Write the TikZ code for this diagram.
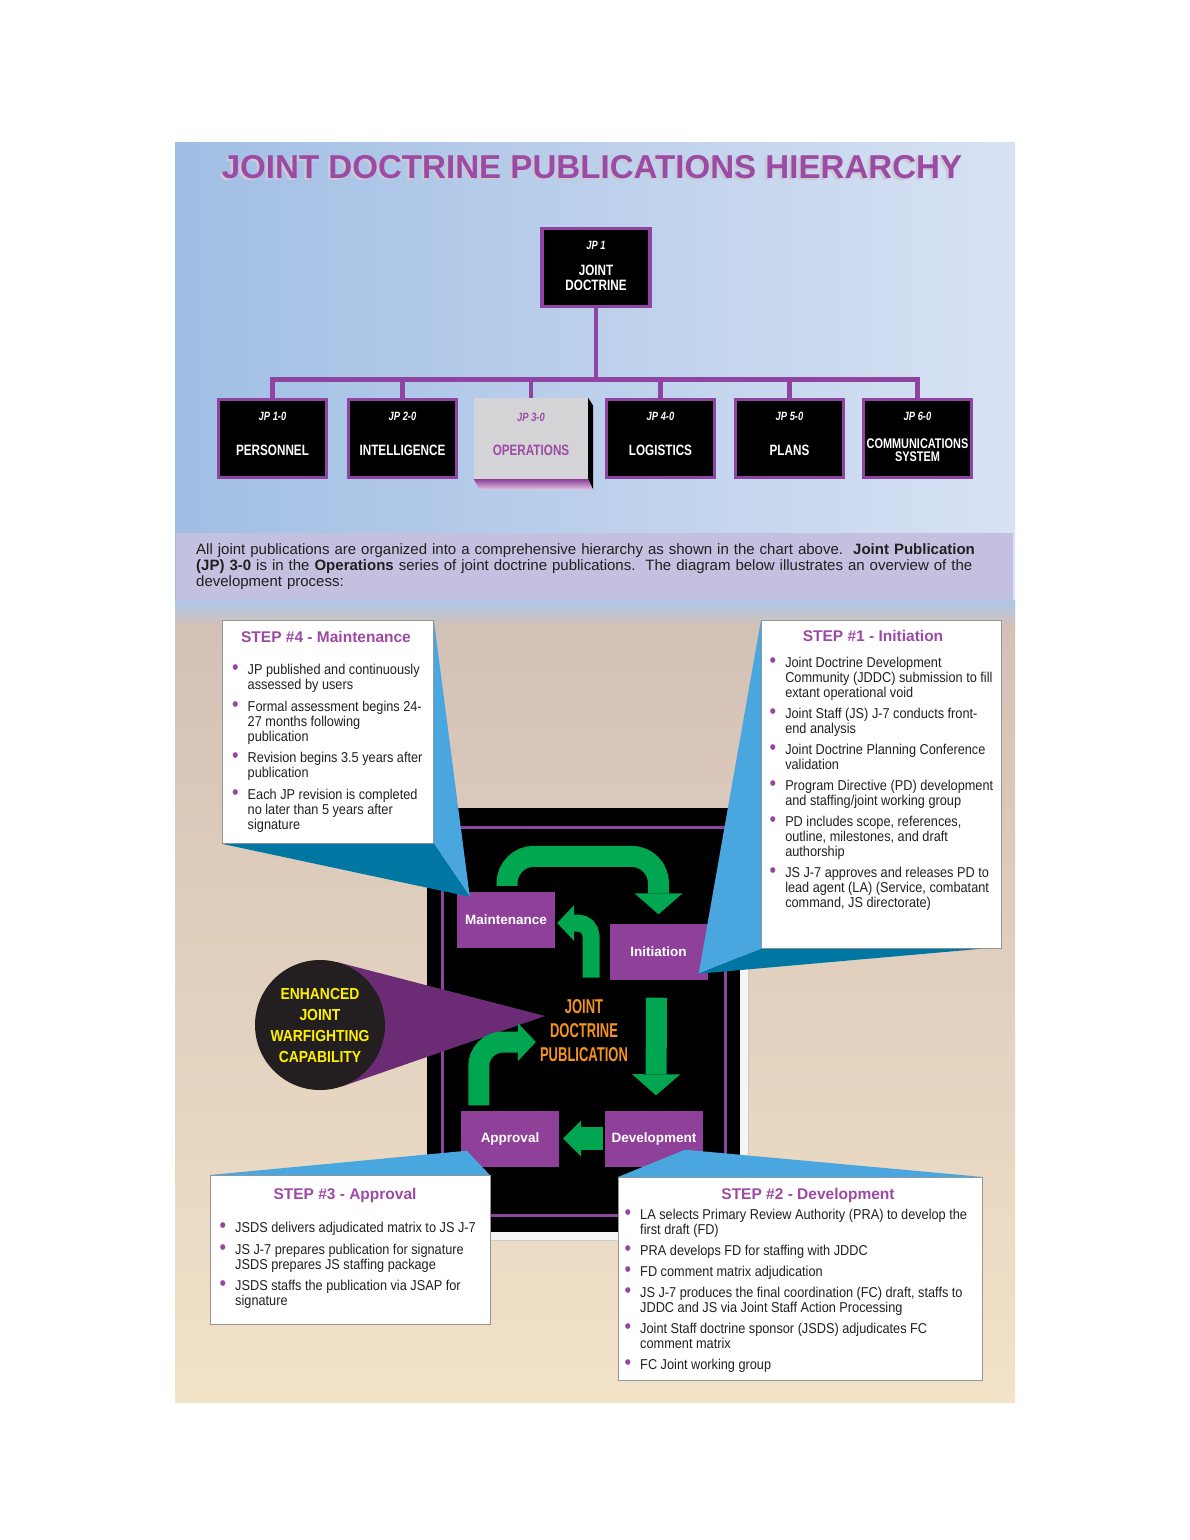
\documentclass[tikz,border=0pt]{standalone}
\usepackage{fontspec}
\setmainfont{Liberation Sans}
\newfontfamily\bodyfont{Liberation Sans}[FakeStretch=0.89]
\newfontfamily\condfont{Liberation Sans}[FakeStretch=0.78]
\newfontfamily\pubfont{Liberation Sans}[FakeStretch=0.65]
\newfontfamily\capfont{Liberation Sans}[FakeStretch=0.87]
\usetikzlibrary{positioning,arrows.meta,calc}
\definecolor{titlepurple}{RGB}{157,74,164}
\definecolor{titleshade}{RGB}{200,202,214}
\definecolor{treeline}{RGB}{142,68,160}
\definecolor{stagefill}{RGB}{143,64,153}
\definecolor{opsgrey}{RGB}{212,212,214}
\definecolor{band}{RGB}{196,192,224}
\definecolor{skyleft}{RGB}{160,190,228}
\definecolor{skymid}{RGB}{172,199,233}
\definecolor{skyright}{RGB}{216,226,243}
\definecolor{sandtop}{RGB}{211,193,182}
\definecolor{sandbot}{RGB}{242,226,200}
\definecolor{wedge}{RGB}{74,166,222}
\definecolor{wedgedark}{RGB}{0,118,162}
\definecolor{gre}{RGB}{0,166,80}
\definecolor{pubor}{RGB}{247,148,29}
\definecolor{capyel}{RGB}{255,240,0}
\definecolor{cone}{RGB}{107,44,117}
\definecolor{coin}{RGB}{35,31,32}
\definecolor{bul}{RGB}{150,70,160}
\definecolor{boxline}{RGB}{150,150,150}
\definecolor{textdark}{RGB}{35,31,32}
\newcommand{\bul}{\textcolor{bul}{\fontsize{21}{15}\selectfont\textbullet}}
\tikzset{
  title/.style={font=\bfseries\fontsize{33.1}{36}\selectfont, text=titlepurple, inner sep=0pt},
  jpbox/.style={draw=treeline, line width=3.5pt, fill=black, minimum width=108pt,
                minimum height=78pt, inner sep=0pt},
  opsbox/.style={fill=opsgrey, minimum width=114pt, minimum height=81pt, inner sep=0pt},
  jpnum/.style={font=\condfont\bfseries\itshape\fontsize{12}{12}\selectfont, text=white,
                anchor=north, yshift=-14pt, inner sep=0pt},
  jpname/.style={font=\condfont\bfseries\fontsize{15}{15}\selectfont, text=white, align=center,
                 anchor=center, yshift=-52.5pt, inner sep=0pt},
  tree/.style={draw=treeline, line width=4.5pt},
  intro/.style={anchor=north west, fill=band, minimum width=837pt, minimum height=67pt,
                text width=797pt, inner xsep=20pt, align=left, text=textdark,
                font=\fontsize{15}{16}\selectfont},
  stage/.style={fill=stagefill, text=white, font=\bfseries\fontsize{13.5}{14}\selectfont,
                minimum width=98pt, minimum height=56pt, inner sep=0pt},
  pubtext/.style={text=pubor, align=center, inner sep=0pt,
                  font=\pubfont\bfseries\fontsize{20}{24}\selectfont},
  coinstyle/.style={circle, fill=coin, minimum size=130pt, inner sep=0pt, text=capyel,
                    align=center, font=\capfont\bfseries\fontsize{16}{21}\selectfont},
  garrow/.style={draw=gre, line width=21pt, -{Triangle[width=48pt,length=21pt,line width=0pt]}},
  callout/.style={draw=boxline, line width=0.8pt, fill=white, anchor=north west, inner sep=0pt},
  steptitle/.style={text=titlepurple, font=\bfseries\fontsize{15.5}{16}\selectfont, inner sep=0pt},
  steplist/.style={anchor=north west, inner sep=0pt, text=textdark,
                   font=\bodyfont\fontsize{14.3}{15}\selectfont},
}
\begin{document}
\begin{tikzpicture}[x=1pt, y=-1pt]
  \useasboundingbox (0,0) rectangle (1190,1540);

  %% backdrop
  \fill[white] (0,0) rectangle (1190,1540);
  \shade[left color=skyleft, middle color=skymid, right color=skyright] (175,142) rectangle (1015,618);
  \shade[top color=sandtop, bottom color=sandbot] (175,618) rectangle (1015,1402);
  \shade[top color=skymid, bottom color=sandtop] (175,600) rectangle (1015,626);

  %% title
  \node[title, text=titleshade] (titleshadow) at (589.5,169.5) {JOINT DOCTRINE PUBLICATIONS HIERARCHY};
  \node[title] (title) at (592,167) {JOINT DOCTRINE PUBLICATIONS HIERARCHY};

  %% hierarchy chart
  \node[jpbox, label={[jpnum]north:JP 1}, label={[jpname, yshift=1pt]north:JOINT\\DOCTRINE}] (jp1) at (596,267.5) {};
  \node[jpbox, label={[jpnum]north:JP 1-0}, label={[jpname]north:PERSONNEL}] (pers) at (272.5,438.5) {};
  \node[jpbox, label={[jpnum]north:JP 2-0}, label={[jpname]north:INTELLIGENCE}] (intel) at (402.5,438.5) {};
  \node[opsbox, label={[jpnum, text=titlepurple, yshift=-1.5pt]north:JP 3-0},
        label={[jpname, text=titlepurple]north:OPERATIONS}] (ops) at (531,438.5) {};
  \node[jpbox, label={[jpnum]north:JP 4-0}, label={[jpname]north:LOGISTICS}] (logi) at (660.5,438.5) {};
  \node[jpbox, label={[jpnum]north:JP 5-0}, label={[jpname]north:PLANS}] (plans) at (789.5,438.5) {};
  \node[jpbox, label={[jpnum]north:JP 6-0},
        label={[jpname, font=\condfont\bfseries\fontsize{14}{13}\selectfont]north:COMMUNICATIONS\\SYSTEM}] (comms) at (917.5,438.5) {};

  \fill[black] (ops.north east) -- ++(5,8) -- ++(0,84) -- (ops.south east) -- cycle;
  \shade[top color=stagefill, bottom color=stagefill!25!white]
    (ops.south west) -- (ops.south east) -- ++(5,11) -- ($(ops.south west)+(6,11)$) -- cycle;

  \coordinate (bus) at ($(jp1.south)+(0,71)$);
  \draw[tree] (jp1.south) -- (bus);
  \draw[tree] (bus) -| (pers.north);
  \draw[tree] (bus) -| (intel.north);
  \draw[tree] (bus) -| (ops.north);
  \draw[tree] (bus) -| (logi.north);
  \draw[tree] (bus) -| (plans.north);
  \draw[tree] (bus) -| (comms.north);

  %% intro band
  \node[intro] (intro) at (176,533) {All joint publications are organized into a comprehensive hierarchy as shown in the chart above.\ \ \textbf{Joint Publication}\\
    \textbf{(JP) 3-0} is in the \textbf{Operations} series of joint doctrine publications.\ \ The diagram below illustrates an overview of the\\
    development process:};

  %% process panel
  \node[fill=white!96!black, draw=black!20, minimum width=313pt, minimum height=424pt,
        anchor=north west, inner sep=0pt] (panelshadow) at (435,816) {};
  \node[fill=black, minimum width=313pt, minimum height=424pt, anchor=north west,
        inner sep=0pt] (panel) at (427,808) {};
  \draw[treeline, line width=3pt] ($(panel.north west)+(15,19)$) rectangle ($(panel.south east)+(-15,-17)$);

  %% enhanced capability
  \node[circle, minimum size=130pt, inner sep=0pt] (ejwcrim) at (320,1025) {};
  \coordinate (conetip) at (545,1016);
  \fill[cone] (tangent cs:node=ejwcrim,point={(conetip)},solution=1) -- (conetip)
    -- (tangent cs:node=ejwcrim,point={(conetip)},solution=2) -- cycle;
  \node[coinstyle] (ejwc) at (ejwcrim) {ENHANCED\\JOINT\\WARFIGHTING\\CAPABILITY};

  %% stages
  \node[stage] (maint) at (506,920) {Maintenance};
  \node[stage] (init) at (658.5,951.5) {Initiation};
  \node[stage] (appr) at (510,1138.5) {Approval};
  \node[stage] (dev) at (654,1138.5) {Development};
  \node[pubtext] (pub) at (584,1031) {JOINT\\DOCTRINE\\PUBLICATION};

  \draw[garrow, rounded corners=27pt] ($(maint.north)+(1,-6)$) |- ($(init.north)+(0,-67)$) -- ($(init.north)+(0,-9)$);
  \draw[garrow] ($(init.south)+(-2,18)$) -- ($(dev.north)+(2,-15)$);
  \draw[garrow, line width=23pt, -{Triangle[width=36pt,length=18pt,line width=0pt]}]
    ($(dev.west)+(-2,0)$) -- ($(appr.east)+(4,0)$);
  \draw[garrow, -{Triangle[width=38pt,length=18pt,line width=0pt]}, rounded corners=24pt]
    ($(appr.north west)+(18,-5)$) |- ($(pub.west)+(-4,11)$);
  \draw[garrow, line width=17pt, -{Triangle[width=36pt,length=17pt,line width=0pt]}, rounded corners=13pt]
    ($(pub.north)+(7,-22)$) |- ($(maint.east)+(2,3)$);

  %% step callouts
  \node[callout, minimum width=211pt, minimum height=223pt] (s4) at (222,620) {};
  \node[callout, minimum width=240pt, minimum height=328pt] (s1) at (761,620) {};
  \node[callout, minimum width=280pt, minimum height=149pt] (s3) at (210,1175) {};
  \node[callout, minimum width=364pt, minimum height=203pt] (s2) at (618,1177) {};

  \fill[wedge] (s4.north east) -- ($(maint.north west)+(13,5)$) -- (s4.south east) -- cycle;
  \fill[wedgedark] (s4.south west) -- (s4.south east) -- ($(maint.north west)+(13,5)$) -- cycle;
  \fill[wedge] (s1.north west) -- ($(init.south east)+(-9,-6)$) -- (s1.south west) -- cycle;
  \fill[wedgedark] (s1.south west) -- ($(s1.south east)+(-21,0)$) -- ($(init.south east)+(-9,-6)$) -- cycle;
  \fill[wedge] (s3.north west) -- ($(appr.south west)+(6,-16)$) -- ($(s3.north east)+(-1,0)$) -- cycle;
  \fill[wedge] (s2.north west) -- ($(dev.south)+(31,-17)$) -- (s2.north east) -- cycle;

  \node[steptitle] (s4title) at (326,637) {STEP \#4 - Maintenance};
  \node[steplist] (s4list) at (232,664) {\begin{tabular}{@{}l@{\hspace{9pt}}l@{}}
    \bul & JP published and continuously\\ & assessed by users\\[6.5pt]
    \bul & Formal assessment begins 24-\\ & 27 months following\\ & publication\\[6.5pt]
    \bul & Revision begins 3.5 years after\\ & publication\\[6.5pt]
    \bul & Each JP revision is completed\\ & no later than 5 years after\\ & signature
  \end{tabular}};

  \node[steptitle] (s1title) at (873,636) {STEP \#1 - Initiation};
  \node[steplist] (s1list) at (769.5,657) {\begin{tabular}{@{}l@{\hspace{9pt}}l@{}}
    \bul & Joint Doctrine Development\\ & Community (JDDC) submission to fill\\ & extant operational void\\[6pt]
    \bul & Joint Staff (JS) J-7 conducts front-\\ & end analysis\\[6pt]
    \bul & Joint Doctrine Planning Conference\\ & validation\\[6pt]
    \bul & Program Directive (PD) development\\ & and staffing/joint working group\\[6pt]
    \bul & PD includes scope, references,\\ & outline, milestones, and draft\\ & authorship\\[6pt]
    \bul & JS J-7 approves and releases PD to\\ & lead agent (LA) (Service, combatant\\ & command, JS directorate)
  \end{tabular}};

  \node[steptitle] (s3title) at (345,1195) {STEP \#3 - Approval};
  \node[steplist] (s3list) at (219.5,1222) {\begin{tabular}{@{}l@{\hspace{9pt}}l@{}}
    \bul & JSDS delivers adjudicated matrix to JS J-7\\[6.5pt]
    \bul & JS J-7 prepares publication for signature\\ & JSDS prepares JS staffing package\\[6.5pt]
    \bul & JSDS staffs the publication via JSAP for\\ & signature
  \end{tabular}};

  \node[steptitle] (s2title) at (808,1195) {STEP \#2 - Development};
  \node[steplist] (s2list) at (624.5,1209) {\begin{tabular}{@{}l@{\hspace{9pt}}l@{}}
    \bul & LA selects Primary Review Authority (PRA) to develop the\\ & first draft (FD)\\[6pt]
    \bul & PRA develops FD for staffing with JDDC\\[6pt]
    \bul & FD comment matrix adjudication\\[6pt]
    \bul & JS J-7 produces the final coordination (FC) draft, staffs to\\ & JDDC and JS via Joint Staff Action Processing\\[6pt]
    \bul & Joint Staff doctrine sponsor (JSDS) adjudicates FC\\ & comment matrix\\[6pt]
    \bul & FC Joint working group
  \end{tabular}};
\end{tikzpicture}
\end{document}
